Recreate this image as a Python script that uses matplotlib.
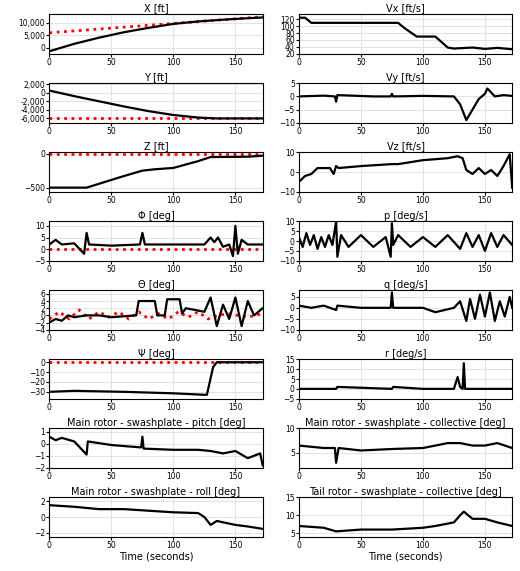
import numpy as np
import matplotlib.pyplot as plt

# keypoints (time [s], value)
x_t = [0, 20, 40, 60, 80, 100, 120, 140, 160, 172]
x_v = [-1500, 1500, 4000, 6200, 8000, 9600, 10600, 11300, 11900, 12200]
x_ref_t = [0, 172]
x_ref_v = [6000, 12500]

y_t = [0, 20, 40, 60, 80, 100, 120, 135, 172]
y_v = [500, -800, -2000, -3200, -4300, -5200, -5800, -6000, -6000]
y_ref_v = -6000

z_t = [0, 30, 60, 75, 85, 100, 110, 120, 130, 160, 172]
z_v = [-500, -500, -330, -250, -230, -210, -160, -110, -50, -45, -30]

vx_t = [0, 5, 10, 80, 85, 95, 110, 120, 125, 140, 150, 160, 172]
vx_v = [125, 125, 110, 110, 95, 70, 70, 38, 35, 38, 34, 37, 33]

vy_t = [0, 20, 29, 30, 31, 60, 74, 75, 76, 100, 125, 130, 135, 140, 145, 150, 152, 158, 165, 172]
vy_v = [0, 0.3, 0, -2, 0.5, 0, 0, 1, 0, 0.2, 0, -3, -9, -5, -1, 1, 3, 0, 0.5, 0.2]

vz_t = [0, 5, 10, 15, 25, 28, 30, 32, 50, 75, 80, 100, 120, 128, 132, 135, 140, 145, 150, 155, 160, 165, 170, 172]
vz_v = [-5, -2, -1, 2, 2, -1, 3, 2, 3, 4, 4, 6, 7, 8, 7, 1, -1, 2, -1, 1, -2, 3, 9, -8]

phi_t = [0, 5, 10, 20, 28, 30, 32, 50, 73, 75, 77, 100, 125, 130, 133, 136, 140, 145, 148, 150, 152, 155, 160, 172]
phi_v = [2, 4, 2, 2.5, -2, 7, 2, 1.5, 2, 7, 2, 2, 2, 5, 3, 5, 1, 2, -3, 10, -2, 4, 2, 2]

p_t = [0, 3, 6, 9, 12, 15, 18, 21, 24, 27, 30, 31, 34, 40, 50, 60, 70, 74, 75, 76, 80, 90, 100, 110, 120, 130, 135, 140, 145, 150, 155, 160, 165, 172]
p_v = [2, -3, 4, -2, 3, -4, 2, -3, 3, -2, 10, -8, 3, -3, 3, -3, 2, -8, 9, -2, 3, -3, 2, -3, 3, -4, 4, -3, 3, -5, 4, -3, 3, -2]

theta_t = [0, 5, 10, 15, 20, 30, 40, 50, 70, 72, 85, 87, 93, 95, 105, 107, 110, 125, 130, 135, 140, 145, 150, 155, 160, 165, 172]
theta_v = [-2, -1, -1.5, 0, -0.5, 0, 0, -0.5, 0, 4, 4, 0, 0, 4.5, 4.5, 0.5, 2, 1, 5, -3, 3, -1, 5, -3, 4, 0, 2]
theta_ref_t = [0, 8, 16, 24, 32, 40, 48, 56, 64, 72, 80, 88, 96, 104, 112, 120, 128, 136, 144, 152, 160, 172]
theta_ref_v = [-1, 1, -1, 1.5, -1, 1, -0.5, 1, -1, 1, -1, 0.5, -1, 1, -0.5, 1, -1, 0, 0.5, 0, -0.5, 0.5]

q_t = [0, 10, 20, 30, 31, 50, 74, 75, 76, 100, 110, 125, 130, 135, 138, 142, 146, 150, 154, 158, 162, 166, 170, 172]
q_v = [1, 0, 1, -1, 1, 0, 0, 7, 0, 0, -2, 0, 3, -6, 4, -5, 6, -4, 7, -6, 3, -4, 5, 0]

psi_t = [0, 20, 60, 100, 125, 127, 132, 135, 172]
psi_v = [-30, -29, -30, -31.5, -33, -33, -5, 0, 0]

r_t = [0, 30, 31, 75, 76, 100, 125, 128, 130, 132, 133, 134, 140, 172]
r_v = [0, 0, 1, 0, 1, 0, 0, 6, 1, 0, 13, 0, 0, 0]

pitch_t = [0, 5, 10, 20, 30, 31, 50, 74, 75, 76, 100, 120, 130, 140, 150, 160, 170, 172]
pitch_v = [0.6, 0.3, 0.5, 0.2, -0.9, 0.2, -0.1, -0.3, 0.6, -0.4, -0.5, -0.5, -0.6, -0.8, -0.6, -1.2, -0.8, -1.8]

coll_t = [0, 20, 29, 30, 32, 50, 75, 100, 120, 130, 140, 150, 160, 172]
coll_v = [6.5, 6, 6, 3, 6, 5.5, 5.8, 6, 7, 7, 6.5, 6.5, 7, 6]

roll_t = [0, 20, 40, 60, 80, 100, 120, 125, 130, 135, 150, 160, 172]
roll_v = [1.5, 1.3, 1, 1, 0.8, 0.6, 0.5, 0, -1, -0.5, -1, -1.2, -1.5]

tail_t = [0, 20, 30, 50, 75, 100, 110, 125, 130, 133, 140, 150, 160, 172]
tail_v = [7, 6.5, 5.5, 6, 6, 6.5, 7, 8, 10, 11, 9, 9, 8, 7]

panels = [
    ('X [ft]', x_t, x_v, (x_ref_t, x_ref_v), (-2500, 13500), [0, 5000, 10000]),
    ('Vx [ft/s]', vx_t, vx_v, None, (20, 135), [20, 40, 60, 80, 100, 120]),
    ('Y [ft]', y_t, y_v, ([0, 172], [y_ref_v, y_ref_v]), (-7000, 2200), [2000, 0, -2000, -4000, -6000]),
    ('Vy [ft/s]', vy_t, vy_v, None, (-10, 5), [-10, -5, 0, 5]),
    ('Z [ft]', z_t, z_v, ([0, 172], [0, 0]), (-560, 20), [-500, 0]),
    ('Vz [ft/s]', vz_t, vz_v, None, (-10, 10), [-10, 0, 10]),
    ('Φ [deg]', phi_t, phi_v, ([0, 172], [0, 0]), (-5, 12), [-5, 0, 5, 10]),
    ('p [deg/s]', p_t, p_v, None, (-10, 10), [-10, -5, 0, 5, 10]),
    ('Θ [deg]', theta_t, theta_v, (theta_ref_t, theta_ref_v), (-4, 7), [-4, -2, 0, 2, 4, 6]),
    ('q [deg/s]', q_t, q_v, None, (-10, 8), [-10, -5, 0, 5]),
    ('Ψ [deg]', psi_t, psi_v, ([0, 172], [0, 0]), (-37, 3), [-30, -20, -10, 0]),
    ('r [deg/s]', r_t, r_v, None, (-5, 15), [-5, 0, 5, 10, 15]),
    ('Main rotor - swashplate - pitch [deg]', pitch_t, pitch_v, None, (-2, 1.3), [-2, -1, 0, 1]),
    ('Main rotor - swashplate - collective [deg]', coll_t, coll_v, None, (2, 10), [5, 10]),
    ('Main rotor - swashplate - roll [deg]', roll_t, roll_v, None, (-2.5, 2.5), [-2, 0, 2]),
    ('Tail rotor - swashplate - collective [deg]', tail_t, tail_v, None, (4, 15), [5, 10, 15]),
]

fig, axes = plt.subplots(8, 2, figsize=(5.2, 5.71), dpi=100)
for ax, (title, t, v, ref, ylim, yt) in zip(axes.flat, panels):
    if ref is not None:
        ax.plot(ref[0], ref[1], color='red', linestyle=':', linewidth=2)
    ax.plot(t, v, color='black', linewidth=1.6)
    ax.set_title(title, fontsize=7, pad=2)
    ax.set_xlim(0, 172)
    ax.set_ylim(*ylim)
    ax.set_yticks(yt)
    ax.set_xticks([0, 50, 100, 150])
    if yt == [0, 5000, 10000]:
        ax.set_yticklabels(['0', '5,000', '10,000'])
    if yt[0] == 2000:
        ax.set_yticklabels(['2,000', '0', '-2,000', '-4,000', '-6,000'])
    ax.tick_params(labelsize=5.5, length=2, pad=1)
    ax.grid(True, color='#dddddd', linewidth=0.6)
for ax in axes[-1]:
    ax.set_xlabel('Time (seconds)', fontsize=7, labelpad=1)

plt.subplots_adjust(left=0.095, right=0.985, top=0.975, bottom=0.06, hspace=0.75, wspace=0.17)
plt.savefig('out.png')
